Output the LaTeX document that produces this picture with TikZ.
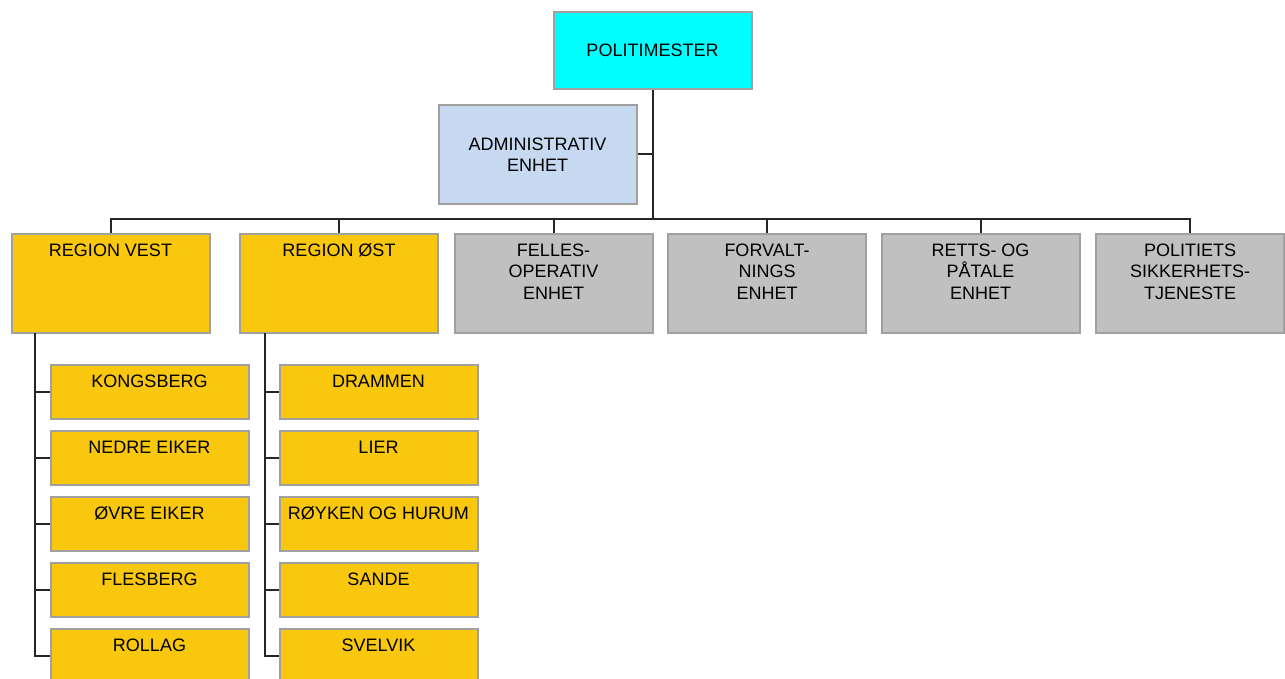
\documentclass[tikz,border=0pt]{standalone}
\usepackage{fontspec}
\setmainfont{Liberation Sans}
\definecolor{chief}{HTML}{00FFFF}
\definecolor{staff}{HTML}{C6D9F1}
\definecolor{region}{HTML}{F9C80E}
\definecolor{unit}{HTML}{C0C0C0}
\definecolor{rim}{HTML}{A0A0A0}
\tikzset{
  box/.style={draw=rim,line width=1pt,inner sep=0pt,minimum width=99pt,minimum height=49.5pt,align=center},
  small/.style={minimum height=27pt},
  every label/.style={anchor=north,yshift=-5.25pt,align=center,inner sep=0pt},
  wire/.style={draw=black!85,line width=1pt}
}
\begin{document}
\begin{tikzpicture}[x=0.5pt,y=-0.5pt,font=\fontsize{9}{10.75}\selectfont]

      \useasboundingbox (0,0) rectangle (1285,679);

      \node[box,fill=chief,minimum height=38.5pt] (pm)  at (652.5,50.5)  {POLITIMESTER};
      \node[box,fill=staff] (adm) at (537.5,154.5) {ADMINISTRATIV\\ENHET};

      \node[box,fill=region,label=north:REGION VEST] (rv) at (110.5,283.5) {};
      \node[box,fill=region,label=north:REGION ØST]  (ro) at (339,283.5)   {};
      \node[box,fill=unit,label={north:FELLES-\\OPERATIV\\ENHET}]          (fo) at (553.5,283.5) {};
      \node[box,fill=unit,label={north:FORVALT-\\NINGS\\ENHET}]            (fv) at (767,283.5)   {};
      \node[box,fill=unit,label={north:RETTS- OG\\PÅTALE\\ENHET}]          (rp) at (980.5,283.5) {};
      \node[box,fill=unit,minimum width=94pt,label={north:POLITIETS\\SIKKERHETS-\\TJENESTE}] (ps) at (1190,283.5) {};

      \foreach \name [count=\i] in {KONGSBERG,NEDRE EIKER,ØVRE EIKER,FLESBERG,ROLLAG}
        \node[box,small,fill=region,label=north:\name] (v\i) at (149.5,326+66*\i) {};
      \foreach \name [count=\i] in {DRAMMEN,LIER,RØYKEN OG HURUM,SANDE,SVELVIK}
        \node[box,small,fill=region,label=north:\name] (o\i) at (378.5,326+66*\i) {};

      \coordinate (bus)  at (652.5,219);
      \coordinate (vleg) at (35,333);
      \coordinate (oleg) at (265,333);

      \draw[wire] (pm) -- (bus);
      \draw[wire] (adm) -- (adm -| bus);
      \draw[wire] (rv) |- (bus) -| (ps);
      \foreach \n in {ro,fo,fv,rp}
        \draw[wire] (\n) -- (\n |- bus);

      \draw[wire] (vleg) |- (v5);
      \draw[wire] (oleg) |- (o5);
      \foreach \i in {1,...,4} {
        \draw[wire] (v\i) -- (v\i -| vleg);
        \draw[wire] (o\i) -- (o\i -| oleg);
      }

    \end{tikzpicture}
\end{document}
